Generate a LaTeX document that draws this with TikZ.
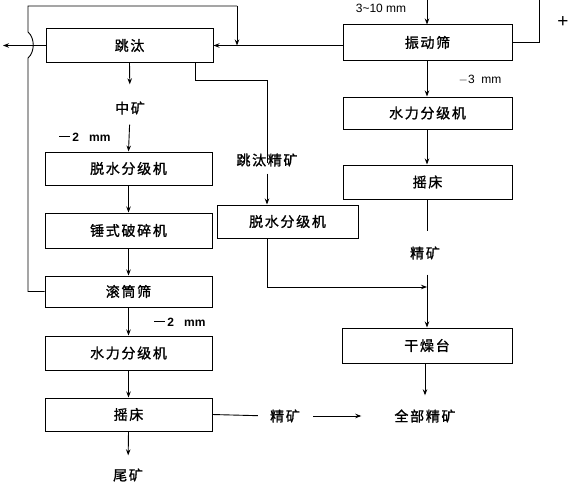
\documentclass[tikz,border=0pt]{standalone}
\usepackage{fontspec}
\setmainfont{Noto Sans CJK SC}[LetterSpace=12,FakeBold=1.2]
\newfontfamily\latinfont{Liberation Sans}
\usetikzlibrary{arrows.meta}
\newcommand{\longminus}{\rule[3.8pt]{11pt}{1pt}\,}
\begin{document}
\begin{tikzpicture}[x=1pt,y=-1pt,
  box/.style={draw,line width=1pt,minimum height=33pt,inner sep=0pt,font=\fontsize{14}{16}\selectfont},
  lbox/.style={box,minimum width=167pt},
  rbox/.style={box,minimum width=169pt},
  lab/.style={inner sep=0pt,font=\fontsize{14}{16}\selectfont},
  mm/.style={inner sep=0pt,font=\latinfont\fontsize{12}{14}\selectfont},
  ln/.style={line width=0.9pt},
  arr/.style={ln,-{Stealth[length=6pt,width=4.5pt]}}]
\useasboundingbox (0,0) rectangle (572,487);
% left column
\node[lbox] (jig) at (129.5,45.5) {跳汰};
\node[lab] (zk) at (130,108) {中矿};
\node[mm] (m2a) at (85,137) {\textbf{\longminus 2\ \ \ mm}};
\node[lbox] (dw1) at (128.5,168.5) {脱水分级机};
\node[lbox,minimum height=35pt] (hammer) at (128.5,230.5) {锤式破碎机};
\node[lbox,minimum height=31pt] (drum) at (128.5,291.5) {滚筒筛};
\node[mm] (m2b) at (180,322) {\textbf{\longminus 2\ \ \ mm}};
\node[lbox,minimum height=34pt] (hc1) at (128.5,353) {水力分级机};
\node[lbox] (tab1) at (128.5,414.5) {摇床};
\node[lab] (tail) at (128,475) {尾矿};
\node[lab] (jc) at (285,416) {精矿};
\node[lab] (all) at (425,416) {全部精矿};
% right column
\node[mm] (feed) at (381,8) {3\textasciitilde10 mm};
\node[rbox,minimum height=35pt] (screen) at (427.5,42.5) {振动筛};
\node[mm,font=\latinfont\fontsize{19}{20}\selectfont] (plus) at (563,22) {+};
\node[mm] (m3) at (480,80) {$-$3\ \ mm};
\node[rbox,minimum height=32pt] (hc2) at (427.5,113) {水力分级机};
\node[rbox,minimum height=34pt] (tab2) at (427.5,182) {摇床};
\node[lab] (jc2) at (425,253) {精矿};
\node[rbox,minimum width=170pt,minimum height=35pt] (dry) at (427,345.5) {干燥台};
% middle
\node[lab] (jjc) at (267,160) {跳汰精矿};
\node[box,minimum width=141pt] (dw2) at (287.5,221.5) {脱水分级机};
% coordinates
\coordinate (ftop) at (427,0);
\coordinate (ptop) at (539,0);
\coordinate (lout) at (3,45.5);
\coordinate (mg) at (427,287);
\coordinate (la) at (28,291.5);
\coordinate (lb) at (28,6);
\coordinate (lc) at (237,6);
% connectors
\draw[arr] (ftop) -- (ftop |- screen.north);
\draw[arr] (screen.west |- jig.east) -- (jig.east);
\draw[ln] (screen.east) -| (ptop);
\draw[arr] (jig.west) -- (lout);
\draw[ln] (drum.west) -- (la) -- (28,58) .. controls (35,52) and (35,38) .. (28,32) -- (lb) -- (lc);
\draw[arr] (lc) -- (lc |- jig.east);
\draw[arr,shorten >=17pt] (jig.south) -- (zk.north);
\draw[arr,shorten <=10pt] (zk.south) -- (dw1.north);
\draw[arr] (dw1.south) -- (hammer.north);
\draw[arr] (hammer.south) -- (drum.north);
\draw[arr] (drum.south) -- (hc1.north);
\draw[arr] (hc1.south) -- (tab1.north);
\draw[arr,shorten >=13pt] (tab1.south) -- (tail.north);
\draw[ln,shorten >=12pt] (tab1.east) -- (jc.west);
\draw[arr,shorten <=13pt,shorten >=33pt] (jc.east) -- (all.west);
\draw[ln] ([xshift=-18pt]jig.south east) -- ++(0,18) -| ([yshift=-10pt]jjc.north);
\draw[arr,shorten <=7pt] (jjc.south) -- (jjc.south |- dw2.north);
\draw[arr] (jjc.south |- dw2.south) |- (mg);
\draw[arr] (screen.south -| ftop) -- (hc2.north -| ftop);
\draw[arr] (hc2.south -| ftop) -- (tab2.north -| ftop);
\draw[ln,shorten >=15pt] (tab2.south -| ftop) -- (ftop |- jc2.north);
\draw[arr,shorten <=15pt] (ftop |- jc2.south) -- (dry.north -| ftop);
\draw[arr,shorten >=14pt] (dry.south -| all.north) -- (all.north);
\end{tikzpicture}
\end{document}
